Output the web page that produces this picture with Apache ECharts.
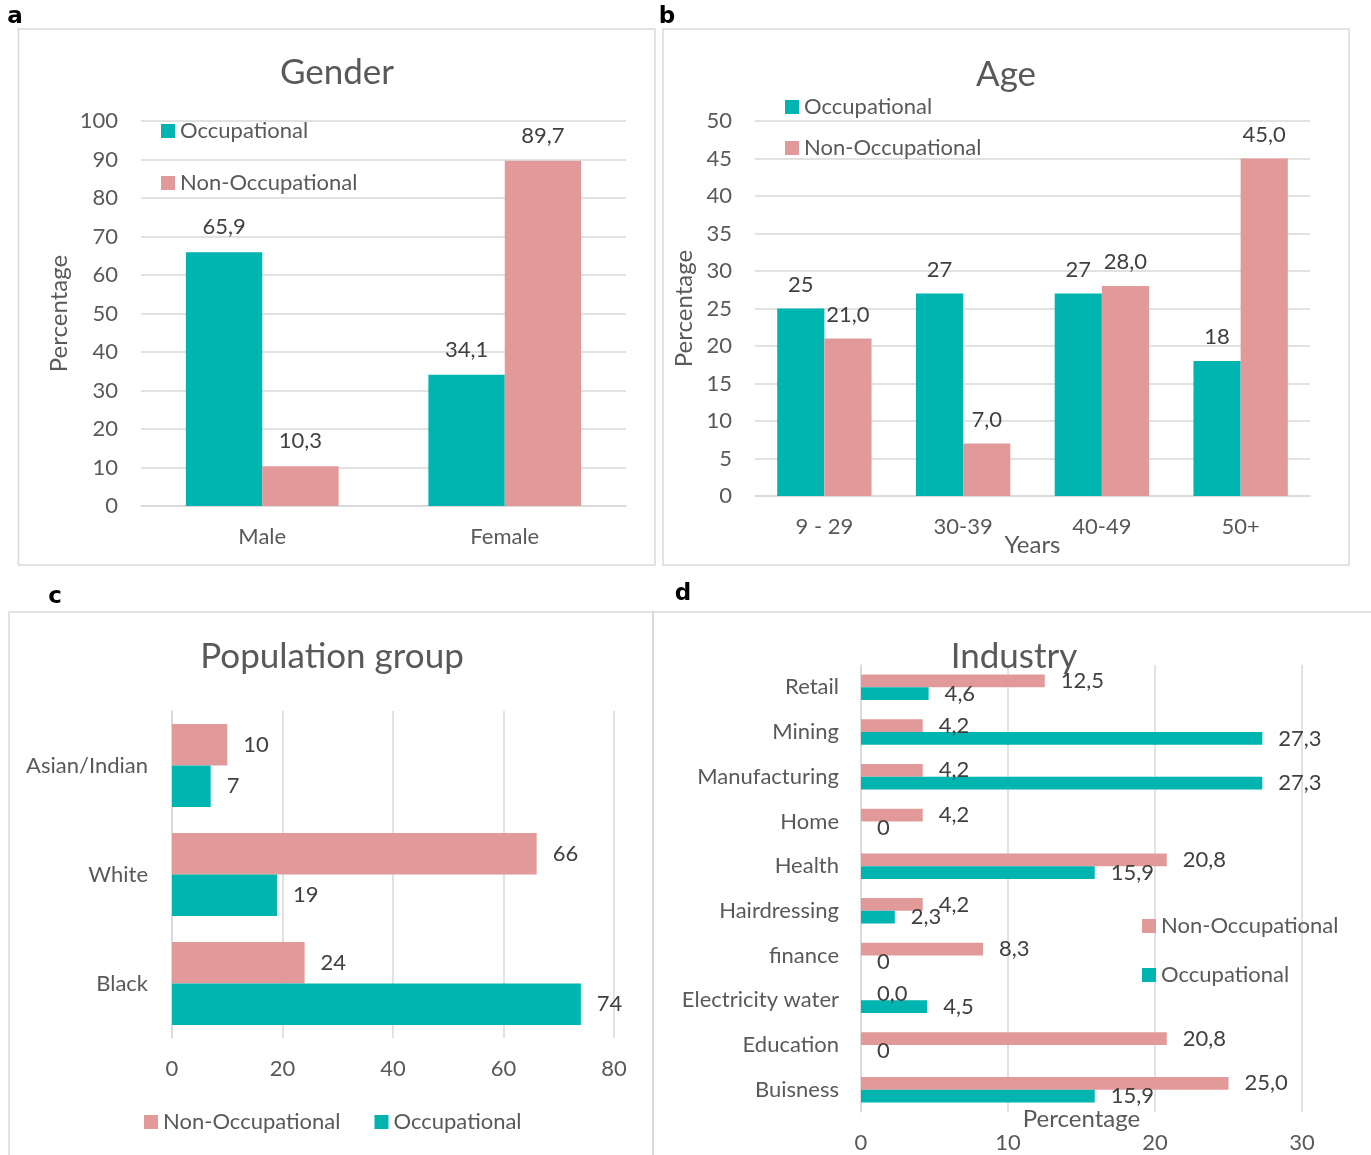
<!DOCTYPE html>
<html>
<head>
<meta charset="utf-8">
<script src="https://cdn.jsdelivr.net/npm/echarts@6/dist/echarts.min.js"></script>
<style>
  html, body { margin: 0; padding: 0; background: #fff; }
  #main { width: 1371px; height: 1155px; }
</style>
</head>
<body>
<div id="main"></div>
<script>
// colours used in all four panels
var TEAL = '#00B5AF';
var PINK = '#E19A99';
var GREY = '#595959';
var FONT = 'Lato';

// a - gender
var genderCats = ['Male', 'Female'];
var genderOcc = [65.9, 34.1];
var genderNon = [10.3, 89.7];

// b - age
var ageCats = ['9 - 29', '30-39', '40-49', '50+'];
var ageOcc = [25, 27, 27, 18];
var ageNon = [21.0, 7.0, 28.0, 45.0];

// c - population group (bottom to top)
var popCats = ['Black', 'White', 'Asian/Indian'];
var popNon = [24, 66, 10];
var popOcc = [74, 19, 7];

// d - industry (bottom to top)
var indCats = ['Buisness', 'Education', 'Electricity water', 'finance', 'Hairdressing',
               'Health', 'Home', 'Manufacturing', 'Mining', 'Retail'];
var indNon = [25.0, 20.8, 0.0, 8.3, 4.2, 20.8, 4.2, 4.2, 4.2, 12.5];
var indOcc = [15.9, 0, 4.5, 0, 2.3, 15.9, 0, 27.3, 27.3, 4.6];

var comma1 = function (p) { return p.value.toFixed(1).replace('.', ','); };
var commaOr0 = function (p) { return p.value === 0 ? '0' : comma1(p); };
var plain = function (p) { return String(p.value); };

var chart = echarts.init(document.getElementById('main'));

var labelStyle = { show: true, color: '#404040', fontSize: 22, fontFamily: FONT };
var axisText = { color: GREY, fontSize: 22, fontFamily: FONT };
var nameText = { color: GREY, fontSize: 24, fontFamily: FONT };
var titleText = { color: GREY, fontSize: 35, fontWeight: 'normal', fontFamily: FONT };
var splitGrey = { show: true, lineStyle: { color: '#d9d9d9', width: 1.5 } };
var baseLine = { show: true, lineStyle: { color: '#d9d9d9', width: 1.5 } };

function border(x, y, w, h) {
    return { type: 'rect', shape: { x: x, y: y, width: w, height: h },
             style: { fill: 'none', stroke: '#d9d9d9', lineWidth: 1.5 }, silent: true };
}
function letter(t, x, y) {
    return { type: 'text', x: x, y: y,
             style: { text: t, fill: '#000', font: 'bold 23px "DejaVu Sans"', textAlign: 'center', textVerticalAlign: 'middle' } };
}
function legend(names, orient, left, top, gap) {
    return { orient: orient, left: left, top: top, padding: 0, icon: 'rect',
             itemWidth: 14, itemHeight: 14, itemGap: gap, data: names, textStyle: axisText };
}
function title(t, x, y) {
    return { text: t, left: x, top: y, padding: 0, textAlign: 'center', textStyle: titleText };
}

var option = {
    animation: false,
    textStyle: { fontFamily: FONT },
    graphic: [
        border(18.5, 29, 636.5, 536),
        border(663, 29, 686, 536),
        border(9, 612, 644, 560),
        border(653, 612, 730, 560),
        letter('a', 15, 17),
        letter('b', 667, 17),
        letter('c', 55, 597),
        letter('d', 683, 594)
    ],
    title: [
        title('Gender', 337, 55),
        title('Age', 1006, 57),
        title('Population group', 332, 639),
        title('Industry', 1014, 639)
    ],
    legend: [
        legend(['Occupational', 'Non-Occupational'], 'vertical', 161, 120, 30),
        legend(['Occupational', 'Non-Occupational'], 'vertical', 785, 96, 19),
        legend(['Non-Occupational', 'Occupational'], 'horizontal', 144, 1111, 34),
        legend(['Non-Occupational', 'Occupational'], 'vertical', 1142, 915, 27)
    ],
    grid: [
        { left: 141, top: 121, width: 485, height: 385, outerBoundsMode: 'none' },
        { left: 755, top: 121, width: 555, height: 375, outerBoundsMode: 'none' },
        { left: 172, top: 711, width: 442, height: 327, outerBoundsMode: 'none' },
        { left: 861, top: 665, width: 441, height: 447, outerBoundsMode: 'none' }
    ],
    xAxis: [
        { gridIndex: 0, type: 'category', data: genderCats, axisTick: { show: false },
          axisLine: baseLine, axisLabel: Object.assign({ margin: 20 }, axisText) },
        { gridIndex: 1, type: 'category', data: ageCats, axisTick: { show: false },
          axisLine: baseLine, axisLabel: Object.assign({ margin: 20 }, axisText),
          name: 'Years', nameLocation: 'middle', nameGap: 37, nameMoveOverlap: false,
          nameTextStyle: nameText },
        { gridIndex: 2, type: 'value', min: 0, max: 80, interval: 20,
          axisLine: { show: false }, axisTick: { show: false }, splitLine: splitGrey,
          axisLabel: Object.assign({ margin: 20 }, axisText) },
        { gridIndex: 3, type: 'value', min: 0, max: 30, interval: 10,
          axisLine: { show: false }, axisTick: { show: false }, splitLine: splitGrey,
          axisLabel: Object.assign({ margin: 20 }, axisText),
          name: 'Percentage', nameLocation: 'middle', nameGap: 7, nameMoveOverlap: false,
          nameTextStyle: Object.assign({ verticalAlign: 'middle' }, nameText) }
    ],
    yAxis: [
        { gridIndex: 0, type: 'value', min: 0, max: 100, interval: 10,
          axisLine: { show: false }, axisTick: { show: false }, splitLine: splitGrey,
          axisLabel: Object.assign({ margin: 23 }, axisText),
          name: 'Percentage', nameLocation: 'middle', nameGap: 70, nameTextStyle: nameText },
        { gridIndex: 1, type: 'value', min: 0, max: 50, interval: 5,
          axisLine: { show: false }, axisTick: { show: false }, splitLine: splitGrey,
          axisLabel: Object.assign({ margin: 23 }, axisText),
          name: 'Percentage', nameLocation: 'middle', nameGap: 59, nameTextStyle: nameText },
        { gridIndex: 2, type: 'category', data: popCats, axisTick: { show: false },
          axisLine: baseLine, axisLabel: Object.assign({ margin: 24 }, axisText) },
        { gridIndex: 3, type: 'category', data: indCats, axisTick: { show: false },
          axisLine: baseLine, axisLabel: Object.assign({ margin: 22 }, axisText) }
    ],
    series: [
        // a
        { name: 'Occupational', type: 'bar', xAxisIndex: 0, yAxisIndex: 0, data: genderOcc,
          itemStyle: { color: TEAL }, barGap: 0, barCategoryGap: '37%',
          label: Object.assign({ position: 'top', distance: 14, formatter: comma1 }, labelStyle) },
        { name: 'Non-Occupational', type: 'bar', xAxisIndex: 0, yAxisIndex: 0, data: genderNon,
          itemStyle: { color: PINK }, barGap: 0, barCategoryGap: '37%',
          label: Object.assign({ position: 'top', distance: 14, formatter: comma1 }, labelStyle) },
        // b
        { name: 'Occupational', type: 'bar', xAxisIndex: 1, yAxisIndex: 1, data: ageOcc,
          itemStyle: { color: TEAL }, barGap: 0, barCategoryGap: '32%',
          label: Object.assign({ position: 'top', distance: 13, formatter: plain }, labelStyle) },
        { name: 'Non-Occupational', type: 'bar', xAxisIndex: 1, yAxisIndex: 1, data: ageNon,
          itemStyle: { color: PINK }, barGap: 0, barCategoryGap: '32%',
          label: Object.assign({ position: 'top', distance: 13, formatter: comma1 }, labelStyle) },
        // c
        { name: 'Non-Occupational', type: 'bar', xAxisIndex: 2, yAxisIndex: 2, data: popNon,
          itemStyle: { color: PINK }, barGap: 0, barCategoryGap: '24%',
          label: Object.assign({ position: 'right', distance: 16, formatter: plain }, labelStyle) },
        { name: 'Occupational', type: 'bar', xAxisIndex: 2, yAxisIndex: 2, data: popOcc,
          itemStyle: { color: TEAL }, barGap: 0, barCategoryGap: '24%',
          label: Object.assign({ position: 'right', distance: 16, formatter: plain }, labelStyle) },
        // d
        { name: 'Non-Occupational', type: 'bar', xAxisIndex: 3, yAxisIndex: 3, data: indNon,
          itemStyle: { color: PINK }, barGap: 0, barCategoryGap: '43%',
          label: Object.assign({ position: 'right', distance: 16, formatter: comma1 }, labelStyle) },
        { name: 'Occupational', type: 'bar', xAxisIndex: 3, yAxisIndex: 3, data: indOcc,
          itemStyle: { color: TEAL }, barGap: 0, barCategoryGap: '43%',
          label: Object.assign({ position: 'right', distance: 16, formatter: commaOr0 }, labelStyle) }
    ]
};

chart.setOption(option);
</script>
</body>
</html>
